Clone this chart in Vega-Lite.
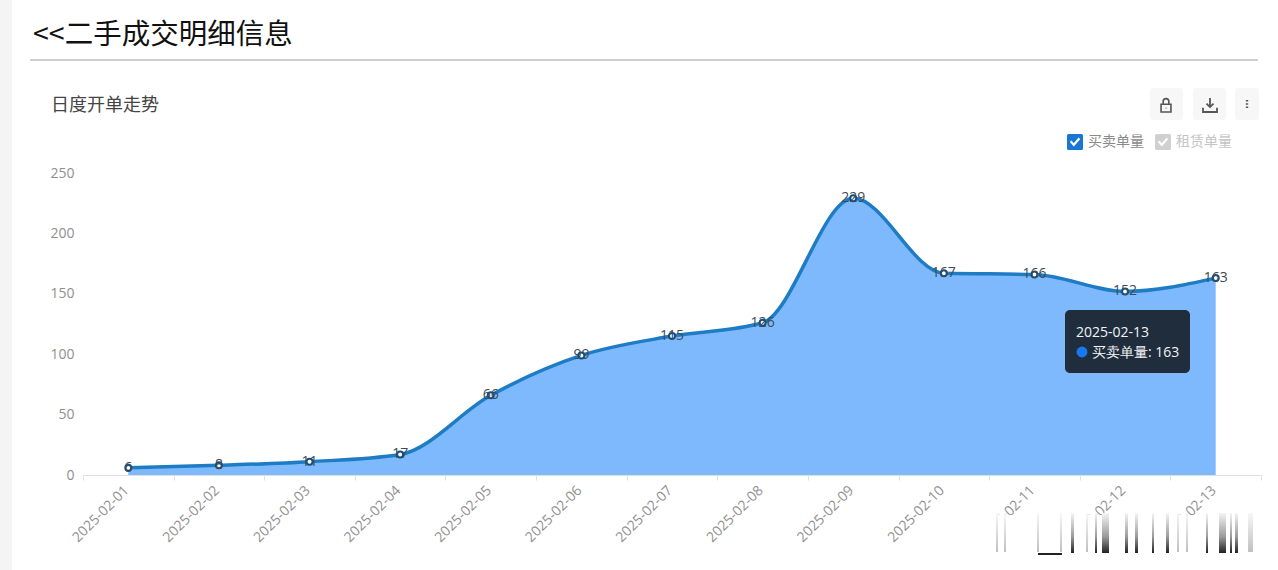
{
"$schema":"https://vega.github.io/schema/vega-lite/v6.json",
"width":1178,"height":302,
"autosize":{"type":"none"},
"padding":{"left":83,"top":173,"right":17,"bottom":95},
"background":"#ffffff",
"config":{"view":{"stroke":null},"font":"Noto Sans CJK SC"},
"title":{"text":"<<二手成交明细信息","anchor":"start","frame":"group","dx":-50,"offset":-49,"fontSize":28.5,"fontWeight":"normal","color":"#111111","font":"Noto Sans CJK SC"},
"datasets":{
"daily":[
{"date":"2025-02-01","value":6,"series":"买卖单量"},
{"date":"2025-02-02","value":8,"series":"买卖单量"},
{"date":"2025-02-03","value":11,"series":"买卖单量"},
{"date":"2025-02-04","value":17,"series":"买卖单量"},
{"date":"2025-02-05","value":66,"series":"买卖单量"},
{"date":"2025-02-06","value":99,"series":"买卖单量"},
{"date":"2025-02-07","value":115,"series":"买卖单量"},
{"date":"2025-02-08","value":126,"series":"买卖单量"},
{"date":"2025-02-09","value":229,"series":"买卖单量"},
{"date":"2025-02-10","value":167,"series":"买卖单量"},
{"date":"2025-02-11","value":166,"series":"买卖单量"},
{"date":"2025-02-12","value":152,"series":"买卖单量"},
{"date":"2025-02-13","value":163,"series":"买卖单量"}],
"strip":[{"x":0,"x2":12,"y":0,"y2":570}],
"divider":[{"x":30,"x2":1258,"y":60}],
"buttons":[{"x":1150,"x2":1183,"y":88,"y2":120},{"x":1193,"x2":1226,"y":88,"y2":120},{"x":1235,"x2":1259,"y":88,"y2":120}],
"lock":[{"x":1166,"y":105}],
"download":[{"x":1210,"y":105}],
"more":[{"x":1247,"y":104}],
"tipbox":[{"x":1065,"x2":1190,"y":310,"y2":373}],
"tipdot":[{"x":1082,"y":352}],
"tiptext":[{"x":1076,"y":333,"label":"2025-02-13"},{"x":1092,"y":353,"label":"买卖单量: 163"}],
"patch":[{"x":968,"x2":1265,"y":515,"y2":570}],
"darkbars":[{"x":1071,"x2":1074,"y":513,"y2":553},{"x":1095,"x2":1097,"y":513,"y2":553},{"x":1102,"x2":1109,"y":513,"y2":553},{"x":1125,"x2":1128,"y":513,"y2":553},{"x":1135,"x2":1138,"y":513,"y2":553},{"x":1152,"x2":1154,"y":513,"y2":553},{"x":1166,"x2":1169,"y":513,"y2":553},{"x":1206,"x2":1208,"y":513,"y2":553},{"x":1219,"x2":1226,"y":513,"y2":553},{"x":1230,"x2":1232,"y":513,"y2":553},{"x":1235,"x2":1238,"y":513,"y2":553}],
"fadedbars":[{"x":996,"x2":998,"y":513,"y2":552},{"x":1004,"x2":1006,"y":513,"y2":552},{"x":1037,"x2":1039,"y":513,"y2":552},{"x":1060,"x2":1062,"y":513,"y2":552},{"x":1086,"x2":1088,"y":513,"y2":552},{"x":1177,"x2":1179,"y":513,"y2":552},{"x":1186,"x2":1188,"y":513,"y2":552},{"x":1248,"x2":1253,"y":513,"y2":552}],
"hook":[{"x":1038,"x2":1062,"y":554}]
},
"layer":[
{"data":{"name":"daily"},
 "encoding":{"x":{"field":"date","type":"ordinal","scale":{"type":"band","paddingInner":0,"paddingOuter":0},
   "axis":{"title":null,"labelAngle":-45,"labelFontSize":14,"labelFont":"Open Sans","labelColor":"#8f8f8f","labelPadding":3,"labelOffset":-7,"domainColor":"#e0e0e0","tickColor":"#e0e0e0","tickSize":5,"tickBand":"extent","grid":false}}},
 "layer":[
  {"mark":{"type":"area","interpolate":"monotone","color":"#7db9fc","opacity":1},
   "encoding":{"y":{"field":"value","type":"quantitative","scale":{"domain":[0,250],"nice":false},
     "axis":{"title":"日度开单走势","titleAngle":0,"titleX":-32.5,"titleY":-59,"titleAlign":"left","titleFontSize":18,"titleFontWeight":"normal","titleColor":"#444444","titleFont":"Noto Sans CJK SC","values":[0,50,100,150,200,250],"labelFontSize":14,"labelFont":"Open Sans","labelColor":"#8f8f8f","labelPadding":9,"domain":false,"ticks":false,"grid":false}}}},
  {"mark":{"type":"line","interpolate":"monotone","color":"#1e7cc4","strokeWidth":3.5},
   "encoding":{"y":{"field":"value","type":"quantitative"}}},
  {"mark":{"type":"point","filled":true,"fill":"#ffffff","stroke":"#14507f","strokeWidth":2,"size":36,"opacity":1},
   "encoding":{"y":{"field":"value","type":"quantitative"}}},
  {"mark":{"type":"point","filled":true,"size":1,"opacity":0},
   "encoding":{"y":{"field":"value","type":"quantitative"},
    "color":{"field":"series","type":"nominal","scale":{"domain":["买卖单量","租赁单量"],"range":["#1976d2","#d0d0d0"]},
     "legend":{"title":null,"orient":"none","legendX":984,"legendY":-39,"direction":"horizontal","symbolType":"M-0.8-1H0.8Q1-1 1-0.8V0.8Q1 1 0.8 1H-0.8Q-1 1-1 0.8V-0.8Q-1-1-0.8-1ZM-0.65 0L-0.15 0.55L0.65-0.35L0.45-0.55L-0.15 0.15L-0.45-0.2Z","symbolSize":256,"symbolOpacity":1,"symbolStrokeWidth":0,"labelFontSize":14,"labelOffset":5,"labelColor":"#8a8a8a","columnPadding":11,
      "encode":{"labels":{"update":{"fill":{"signal":"datum.value === '买卖单量' ? '#8a8a8a' : '#c4c4c4'"}}}}}}}},
  {"mark":{"type":"text","fontSize":14,"font":"Open Sans","color":"#3f4a56","baseline":"middle","dy":0},
   "encoding":{"y":{"field":"value","type":"quantitative"},"text":{"field":"value","type":"quantitative"}}}
 ]},
{"encoding":{
  "x":{"field":"x","type":"quantitative","axis":null,"scale":{"domain":[0,1278],"range":[-83,1195],"zero":false,"nice":false}},
  "y":{"field":"y","type":"quantitative","axis":null,"scale":{"domain":[0,570],"range":[-173,397],"zero":false,"nice":false}}},
 "layer":[
  {"data":{"name":"strip"},"mark":{"type":"rect","color":"#f4f4f4"},"encoding":{"x2":{"field":"x2"},"y2":{"field":"y2"}}},
  {"data":{"name":"divider"},"mark":{"type":"rule","color":"#a0a0a0","strokeWidth":1},"encoding":{"x2":{"field":"x2"}}},
  {"data":{"name":"buttons"},"mark":{"type":"rect","color":"#f7f7f7","cornerRadius":3},"encoding":{"x2":{"field":"x2"},"y2":{"field":"y2"}}},
  {"data":{"name":"lock"},"mark":{"type":"point","shape":"M-0.7-0.1H0.7V1H-0.7ZM-0.4-0.1V-0.5A0.4 0.4 0 0 1 0.4-0.5V-0.1M-0.05 0.45H0.05","size":200,"stroke":"#555555","strokeWidth":1.6,"fill":"transparent","opacity":1},"encoding":{}},
  {"data":{"name":"download"},"mark":{"type":"point","shape":"M0-1V0.3M-0.5-0.2L0 0.3L0.5-0.2M-1 0.4V1H1V0.4","size":196,"stroke":"#555555","strokeWidth":1.8,"fill":"transparent","opacity":1},"encoding":{}},
  {"data":{"name":"more"},"mark":{"type":"point","shape":"M0-0.8V-0.5M0-0.15V0.15M0 0.5V0.8","size":100,"stroke":"#555555","strokeWidth":2.4,"fill":"transparent","opacity":1},"encoding":{}},
  {"data":{"name":"tipbox"},"mark":{"type":"rect","color":"#1f2d3d","cornerRadius":5},"encoding":{"x2":{"field":"x2"},"y2":{"field":"y2"}}},
  {"data":{"name":"tipdot"},"mark":{"type":"point","filled":true,"color":"#1677ef","size":120,"opacity":1},"encoding":{}},
  {"data":{"name":"tiptext"},"mark":{"type":"text","align":"left","baseline":"middle","fontSize":14,"font":"Open Sans","color":"#f2f4f7"},"encoding":{"text":{"field":"label","type":"nominal"}}},
  {"data":{"name":"patch"},"mark":{"type":"rect","color":"#ffffff"},"encoding":{"x2":{"field":"x2"},"y2":{"field":"y2"}}},
  {"data":{"name":"fadedbars"},"mark":{"type":"rect","fill":{"gradient":"linear","x1":0,"y1":0,"x2":0,"y2":1,"stops":[{"offset":0,"color":"#f7f7f7"},{"offset":1,"color":"#c0c0c0"}]}},"encoding":{"x2":{"field":"x2"},"y2":{"field":"y2"}}},
  {"data":{"name":"darkbars"},"mark":{"type":"rect","fill":{"gradient":"linear","x1":0,"y1":0,"x2":0,"y2":1,"stops":[{"offset":0,"color":"#f5f5f5"},{"offset":0.6,"color":"#999999"},{"offset":1,"color":"#222222"}]}},"encoding":{"x2":{"field":"x2"},"y2":{"field":"y2"}}},
  {"data":{"name":"hook"},"mark":{"type":"rule","color":"#222222","strokeWidth":2},"encoding":{"x2":{"field":"x2"}}}
 ]}
],
"resolve":{"scale":{"x":"independent","y":"independent","color":"independent"}}
}
